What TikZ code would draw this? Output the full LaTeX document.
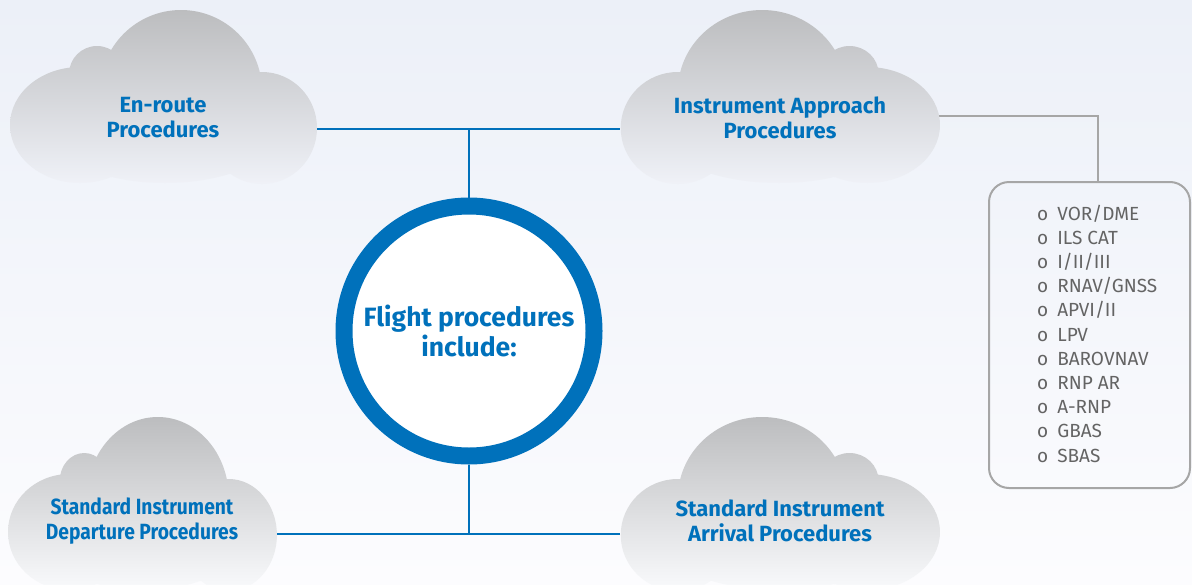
\documentclass[tikz,border=0pt]{standalone}
\usepackage{fontspec}
\setmainfont{Fira Sans}
\definecolor{bgtop}{RGB}{236,240,248}
\definecolor{bgbot}{RGB}{252,252,254}
\definecolor{cloudtop}{RGB}{188,189,191}
\definecolor{cloudbotA}{RGB}{240,242,248}
\definecolor{cloudbotB}{RGB}{250,251,253}
\definecolor{fpblue}{RGB}{0,113,187}
\definecolor{listgray}{RGB}{100,100,100}
\definecolor{boxgray}{RGB}{166,166,166}
\newcommand\cloudpart[2]{\begin{scope}\clip #1;\shade[top color=cloudtop,bottom color=#2] (0,0) rectangle (310,176);\end{scope}}
\newcommand\mycloud[2]{%
  \begin{scope}[#1]
    \cloudpart{(171,81) circle[radius=81]}{#2}
    \cloudpart{(87,64) circle[radius=28]}{#2}
    \cloudpart{(70,115) ellipse[x radius=70,y radius=58]}{#2}
    \cloudpart{(252,118) ellipse[x radius=55,y radius=56]}{#2}
    \cloudpart{(155,115) ellipse[x radius=120,y radius=58]}{#2}
  \end{scope}}
\tikzset{
  title/.style={text=fpblue,align=center,font=\bfseries\fontsize{22}{25}\selectfont},
  conn/.style={draw=fpblue,line width=2pt},
  gconn/.style={draw=boxgray,line width=2pt},
  item/.style={text=listgray,anchor=base west,inner sep=0pt,font=\fontsize{19}{20}\selectfont},
}
\begin{document}
\begin{tikzpicture}[x=1pt,y=-1pt]
\useasboundingbox (0,0) rectangle (1192,584);
\clip (0,0) rectangle (1192,584);
\shade[top color=bgtop,bottom color=bgbot] (0,0) rectangle (1192,584);

% connector end points on the cloud edges
\coordinate (c1e) at (317,129);
\coordinate (c2w) at (620,129);
\coordinate (c2e) at (939,116);
\coordinate (c3e) at (277,534);
\coordinate (c4w) at (620,534);
\coordinate (bend) at (1098,116);

% hub
\node[circle,draw=fpblue,line width=17pt,fill=white,minimum size=250pt,inner sep=0pt,
      text=fpblue,align=center,font=\bfseries\fontsize{26.5}{30}\selectfont] (hub) at (469,331)
      {Flight procedures\\include:};

% list box
\node[draw=boxgray,line width=2pt,rounded corners=20pt,minimum width=201pt,minimum height=306pt,inner sep=0pt] (box) at (1089.5,335) {};

% connectors
\draw[conn] (c1e) -- (c2w);
\draw[conn] (hub.north) -- (hub.north |- c1e);
\draw[conn] (c3e) -- (c4w);
\draw[conn] (hub.south) -- (hub.south |- c3e);
\draw[gconn] (c2e) -- (bend) -- (bend |- box.north);

% clouds
\mycloud{shift={(10,10)}}{cloudbotA}
\mycloud{shift={(940,10)},xscale=-1.04}{cloudbotA}
\mycloud{shift={(8,417)},xscale=0.876}{cloudbotB}
\mycloud{shift={(940,417)},xscale=-1.04}{cloudbotB}

% cloud texts
\node[title] (t1) at (163,118) {En-route\\Procedures};
\node[title] (t2) at (780,118) {Instrument Approach\\Procedures};
\node[title,xscale=0.875] (t3) at (142,521) {Standard Instrument\\Departure Procedures};
\node[title] (t4) at (780,521) {Standard Instrument\\Arrival Procedures};

% list items
\foreach \txt [count=\i] in {VOR/DME,ILS CAT,I/II/III,RNAV/GNSS,APVI/II,LPV,BAROVNAV,RNP AR,A-RNP,GBAS,SBAS}{
  \node[item] (l\i) at (1037,{220+24.2*(\i-1)}) {o\hspace{9pt}\txt};
}
\end{tikzpicture}
\end{document}
